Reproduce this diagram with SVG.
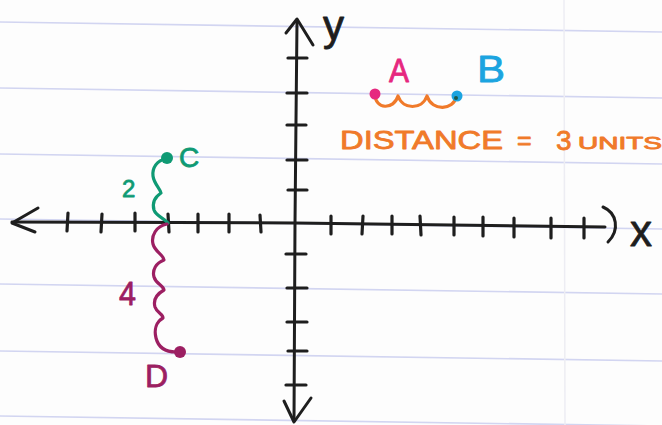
<svg xmlns="http://www.w3.org/2000/svg" width="662" height="425" viewBox="0 0 662 425">
<style>
.rule{stroke:#d2d5f1;stroke-width:1.6;fill:none}
.ax{stroke:#1e1e1e;stroke-width:3;fill:none;stroke-linecap:round;stroke-linejoin:round}
.tk{stroke:#1e1e1e;stroke-width:3.2;stroke-linecap:round}
.br{fill:none;stroke-width:3.2;stroke-linecap:round;stroke-linejoin:round}
.t{font-family:"Liberation Sans","DejaVu Sans",sans-serif;stroke-width:0.8;stroke-linejoin:round}
</style>
<rect width="662" height="425" fill="#fdfdfd"/>
<g id="paper">
<line class="rule" x1="0" y1="22" x2="662" y2="32"/>
<line class="rule" x1="0" y1="88" x2="662" y2="98"/>
<line class="rule" x1="0" y1="154" x2="662" y2="164"/>
<line class="rule" x1="0" y1="219" x2="662" y2="229"/>
<line class="rule" x1="0" y1="284" x2="662" y2="294"/>
<line class="rule" x1="0" y1="351" x2="662" y2="361"/>
<line class="rule" x1="0" y1="416" x2="662" y2="426"/>
<line x1="564" y1="0" x2="565" y2="425" stroke="#ededf3" stroke-width="1.5"/>
</g>
<g id="axes">
<path class="ax" d="M297,22 L296,120 L295,223 L294,421"/>
<path class="ax" d="M286,33 L297,19 L313,45"/>
<path class="ax" d="M284,401 L294,422 L311,398"/>
<path class="ax" d="M12,222 L295,223 L605,227"/>
<path class="ax" d="M38,208 L12,223 L35,232"/>
<path class="ax" d="M603,207 C617,213 620,230 608,242"/>
<g id="x-ticks">
<line class="tk" x1="68" y1="213" x2="67" y2="231"/>
<line class="tk" x1="102" y1="214" x2="101" y2="232"/>
<line class="tk" x1="135" y1="213" x2="135" y2="231"/>
<line class="tk" x1="168" y1="214" x2="169" y2="232"/>
<line class="tk" x1="198" y1="214" x2="198" y2="232"/>
<line class="tk" x1="229" y1="214" x2="229" y2="232"/>
<line class="tk" x1="260" y1="215" x2="261" y2="232"/>
<line class="tk" x1="331" y1="216" x2="331" y2="234"/>
<line class="tk" x1="363" y1="216" x2="362" y2="234"/>
<line class="tk" x1="392" y1="216" x2="392" y2="234"/>
<line class="tk" x1="420" y1="216" x2="421" y2="235"/>
<line class="tk" x1="454" y1="217" x2="454" y2="235"/>
<line class="tk" x1="483" y1="217" x2="483" y2="236"/>
<line class="tk" x1="514" y1="218" x2="514" y2="237"/>
<line class="tk" x1="551" y1="218" x2="551" y2="238"/>
<line class="tk" x1="584" y1="218" x2="584" y2="238"/>
</g>
<g id="y-ticks">
<line class="tk" x1="288" y1="58" x2="307" y2="58"/>
<line class="tk" x1="287" y1="93" x2="307" y2="93"/>
<line class="tk" x1="287" y1="125" x2="306" y2="125"/>
<line class="tk" x1="287" y1="160" x2="307" y2="160"/>
<line class="tk" x1="288" y1="190" x2="307" y2="190"/>
<line class="tk" x1="286" y1="254" x2="306" y2="254"/>
<line class="tk" x1="287" y1="288" x2="307" y2="288"/>
<line class="tk" x1="287" y1="322" x2="307" y2="322"/>
<line class="tk" x1="288" y1="351" x2="307" y2="351"/>
<line class="tk" x1="286" y1="385" x2="306" y2="385"/>
</g>
<text class="t" x="323" y="40" font-size="42" fill="#1e1e1e" stroke="#1e1e1e">y</text>
<text class="t" x="630" y="246" font-size="44" fill="#1e1e1e" stroke="#1e1e1e">x</text>
</g>
<g id="connectors">
<path class="br" stroke="#0f9a74" d="M166,159 C157,160 152,168 153,176 C154,184 160,188 161,193 C155,197 152,203 154,210 C156,216 164,218 168,223"/>
<path class="br" stroke="#9c1f62" d="M167,224 C156,226 151,236 153,244 C155,252 163,254 164,260 C156,263 152,270 154,277 C156,284 163,285 164,290 C157,294 153,300 155,307 C157,313 163,314 163,318 C156,322 154,330 156,338 C158,346 164,352 176,352"/>
<path class="br" stroke="#f07a2a" d="M375,94 C375,110 394,110 398,96 C403,110 422,110 427,96 C432,112 454,110 456,97"/>
</g>
<g id="point-A">
<circle cx="375" cy="94" r="5.5" fill="#e6287f"/>
<text class="t" x="389" y="82" font-size="34" fill="#e6287f" stroke="#e6287f" textLength="20" lengthAdjust="spacingAndGlyphs">A</text>
</g>
<g id="point-B">
<circle cx="457" cy="96" r="5.5" fill="#1ba4e0"/>
<circle cx="456" cy="98" r="2" fill="#1d5a4a"/>
<text class="t" x="477" y="82" font-size="36" fill="#1ba4e0" stroke="#1ba4e0" textLength="28" lengthAdjust="spacingAndGlyphs">B</text>
</g>
<g id="point-C">
<circle cx="167" cy="158" r="6" fill="#0f9a74"/>
<text class="t" x="179" y="167" font-size="28" fill="#0f9a74" stroke="#0f9a74">C</text>
<text class="t" x="122" y="197" font-size="24" fill="#0f9a74" stroke="#0f9a74">2</text>
</g>
<g id="point-D">
<circle cx="180" cy="352" r="6" fill="#9c1f62"/>
<text class="t" x="119" y="305" font-size="33" fill="#9c1f62" stroke="#9c1f62" textLength="17" lengthAdjust="spacingAndGlyphs">4</text>
<text class="t" x="145" y="387" font-size="32" fill="#9c1f62" stroke="#9c1f62">D</text>
</g>
<g id="distance-label" fill="#f07a2a" stroke="#f07a2a">
<text class="t" x="340" y="149" font-size="25" textLength="163" lengthAdjust="spacingAndGlyphs">DISTANCE</text>
<text class="t" x="517" y="149" font-size="25">=</text>
<text class="t" x="556" y="150" font-size="28">3</text>
<text class="t" x="578" y="149" font-size="16" textLength="84" lengthAdjust="spacingAndGlyphs">UNITS</text>
</g>
</svg>
